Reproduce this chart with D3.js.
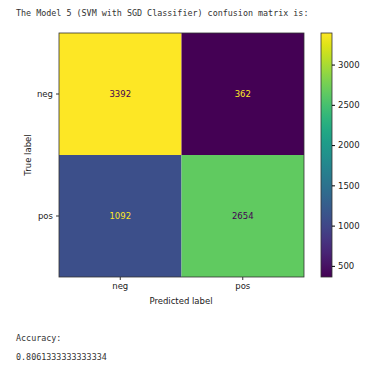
<!DOCTYPE html>
<html>
<head>
<meta charset="UTF-8">
<script src="https://d3js.org/d3.v7.min.js"></script>
<style>
  body { margin: 0; background: #fff; }
  .mono { font-family: "DejaVu Sans Mono", monospace; font-size: 8.4px; fill: #333; }
</style>
</head>
<body>
<svg></svg>
<script>
  let width = 375, height = 366;

  // data
  const predicted = ["neg", "pos"];
  const actual = ["neg", "pos"];
  const counts = [[3392, 362], [1092, 2654]];
  const cbTicks = [500, 1000, 1500, 2000, 2500, 3000];
  const accuracy = "0.8061333333333334";

  let svg = d3.select("svg").attr("width", width).attr("height", height);

  svg.append("text").attr("class", "mono").attr("x", 16).attr("y", 16)
    .text("The Model 5 (SVM with SGD Classifier) confusion matrix is:");

  let x = d3.scaleBand().domain(predicted).range([59, 304]);
  let y = d3.scaleBand().domain(actual).range([33, 277]);

  let flat = [];
  counts.forEach((row, i) => row.forEach((v, j) => flat.push({ r: actual[i], c: predicted[j], v: v })));
  let vmin = d3.min(flat, d => d.v), vmax = d3.max(flat, d => d.v);
  let color = d3.scaleSequential(d3.interpolateViridis).domain([vmin, vmax]);
  let mid = (vmin + vmax) / 2;

  svg.append("g").selectAll("rect").data(flat).enter().append("rect")
    .attr("x", d => x(d.c)).attr("y", d => y(d.r))
    .attr("width", x.bandwidth()).attr("height", y.bandwidth())
    .attr("fill", d => color(d.v));

  svg.append("g").selectAll("text").data(flat).enter().append("text")
    .attr("x", d => x(d.c) + x.bandwidth() / 2)
    .attr("y", d => y(d.r) + y.bandwidth() / 2)
    .attr("dy", "0.35em").attr("text-anchor", "middle")
    .style("font-family", "DejaVu Sans").style("font-size", "8.5px")
    .attr("fill", d => d.v < mid ? color(vmax) : color(vmin))
    .text(d => d.v);

  svg.append("rect").attr("x", 59).attr("y", 33).attr("width", 245).attr("height", 244)
    .attr("fill", "none").attr("stroke", "#333").attr("stroke-width", 0.8);

  let xAxis = svg.append("g").attr("transform", "translate(0,277)")
    .call(d3.axisBottom(x).tickSize(3).tickPadding(3));
  let yAxis = svg.append("g").attr("transform", "translate(59,0)")
    .call(d3.axisLeft(y).tickSize(3).tickPadding(3));
  [xAxis, yAxis].forEach(a => {
    a.select(".domain").remove();
    a.selectAll("text").style("font-family", "DejaVu Sans").style("font-size", "8.5px").attr("fill", "#222");
    a.selectAll("line").attr("stroke", "#333");
  });

  svg.append("text").attr("x", 181).attr("y", 304).attr("text-anchor", "middle")
    .style("font-family", "DejaVu Sans").style("font-size", "8.5px").attr("fill", "#222")
    .text("Predicted label");
  svg.append("text").attr("transform", "translate(31,155) rotate(-90)").attr("text-anchor", "middle")
    .style("font-family", "DejaVu Sans").style("font-size", "8.5px").attr("fill", "#222")
    .text("True label");

  // colorbar
  let cb = d3.scaleLinear().domain([vmin, vmax]).range([277, 33]);
  let defs = svg.append("defs");
  let grad = defs.append("linearGradient").attr("id", "cbg")
    .attr("x1", 0).attr("y1", 1).attr("x2", 0).attr("y2", 0);
  d3.range(0, 1.001, 0.05).forEach(t => {
    grad.append("stop").attr("offset", t).attr("stop-color", d3.interpolateViridis(t));
  });
  svg.append("rect").attr("x", 321).attr("y", 33).attr("width", 11).attr("height", 244)
    .attr("fill", "url(#cbg)").attr("stroke", "#333").attr("stroke-width", 0.8);
  let cbAxis = svg.append("g").attr("transform", "translate(332,0)")
    .call(d3.axisRight(cb).tickValues(cbTicks).tickFormat(d3.format("d")).tickSize(3).tickPadding(3));
  cbAxis.select(".domain").remove();
  cbAxis.selectAll("text").style("font-family", "DejaVu Sans").style("font-size", "8.5px").attr("fill", "#222");

  svg.append("text").attr("class", "mono").attr("x", 16).attr("y", 341).text("Accuracy:");
  svg.append("text").attr("class", "mono").attr("x", 16).attr("y", 360).text(accuracy);
</script>
</body>
</html>
